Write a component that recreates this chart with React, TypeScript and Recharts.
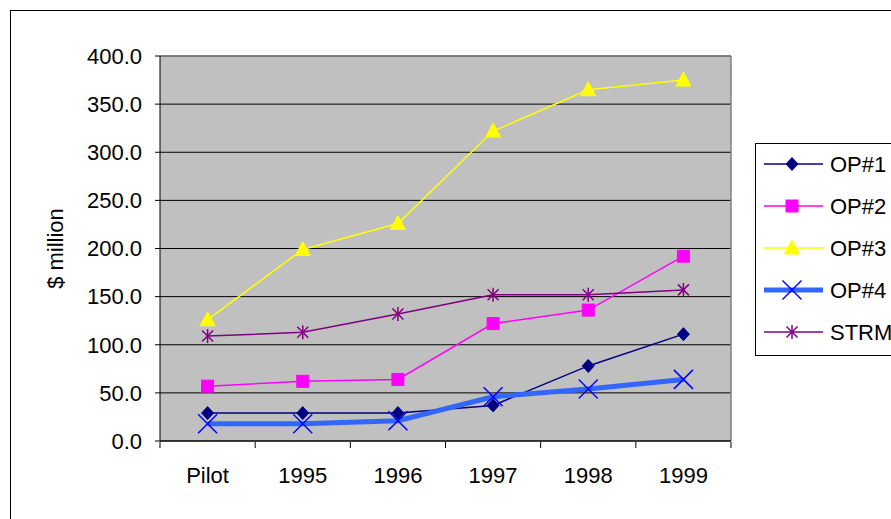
import {
  ComposedChart,
  Line,
  XAxis,
  YAxis,
  CartesianGrid,
  ReferenceLine,
  Legend,
} from 'recharts'

const categories = ['Pilot', '1995', '1996', '1997', '1998', '1999']
const op1 = [29, 29, 29, 37, 78, 111]
const op2 = [57, 62, 64, 122, 136, 192]
const op3 = [126, 199, 226, 322, 365, 375]
const op4 = [18, 18, 21, 46, 54, 64]
const strm = [109, 113, 132, 152, 152, 157]
const yTicks = [0, 50, 100, 150, 200, 250, 300, 350, 400]
const edgeTicks = [0, 1, 2, 3, 4, 5, 6]

const FONT = '"Liberation Sans", Arial, sans-serif'

type Shape = 'diamond' | 'square' | 'triangle' | 'cross' | 'star'

interface SeriesDef {
  key: string
  name: string
  values: number[]
  stroke: string
  width: number
  marker: Shape
  markerColor: string
}

const series: SeriesDef[] = [
  { key: 'op1', name: 'OP#1', values: op1, stroke: '#000080', width: 1.5, marker: 'diamond', markerColor: '#000080' },
  { key: 'op2', name: 'OP#2', values: op2, stroke: '#FF00FF', width: 1.5, marker: 'square', markerColor: '#FF00FF' },
  { key: 'op3', name: 'OP#3', values: op3, stroke: '#FFFF00', width: 1.5, marker: 'triangle', markerColor: '#FFFF00' },
  { key: 'op4', name: 'OP#4', values: op4, stroke: '#3366FF', width: 5, marker: 'cross', markerColor: '#0000FF' },
  { key: 'strm', name: 'STRM', values: strm, stroke: '#800080', width: 1.5, marker: 'star', markerColor: '#800080' },
]

const data = categories.map((label, i) => {
  const row: Record<string, string | number> = { label }
  series.forEach((s) => {
    row[s.key] = s.values[i]
  })
  return row
})

function Marker({ cx, cy, shape, color }: { cx: number; cy: number; shape: Shape; color: string }) {
  if (cx == null || cy == null) return null
  switch (shape) {
    case 'diamond':
      return (
        <polygon
          points={`${cx},${cy - 6.5} ${cx + 6},${cy} ${cx},${cy + 6.5} ${cx - 6},${cy}`}
          fill={color}
          stroke={color}
        />
      )
    case 'square':
      return <rect x={cx - 6} y={cy - 6} width={12} height={12} fill={color} stroke={color} />
    case 'triangle':
      return (
        <polygon
          points={`${cx},${cy - 8} ${cx + 7.5},${cy + 6} ${cx - 7.5},${cy + 6}`}
          fill={color}
          stroke={color}
        />
      )
    case 'cross':
      return (
        <g stroke={color} strokeWidth={1.5}>
          <line x1={cx - 9.5} y1={cy - 9.5} x2={cx + 9.5} y2={cy + 9.5} />
          <line x1={cx - 9.5} y1={cy + 9.5} x2={cx + 9.5} y2={cy - 9.5} />
        </g>
      )
    case 'star':
      return (
        <g stroke={color} strokeWidth={1.5}>
          <line x1={cx - 5.5} y1={cy - 5.5} x2={cx + 5.5} y2={cy + 5.5} />
          <line x1={cx - 5.5} y1={cy + 5.5} x2={cx + 5.5} y2={cy - 5.5} />
          <line x1={cx} y1={cy - 7} x2={cx} y2={cy + 7} />
        </g>
      )
  }
  return null
}

function LegendBox() {
  return (
    <svg width={200} height={214} style={{ display: 'block' }}>
      <rect x={0.5} y={0.5} width={210} height={212} fill="#fff" stroke="#000" />
      {series.map((s, i) => {
        const y = 21 + i * 42
        return (
          <g key={s.key}>
            <line x1={9} x2={68} y1={y} y2={y} stroke={s.stroke} strokeWidth={s.width} />
            <Marker cx={37} cy={y} shape={s.marker} color={s.markerColor} />
            <text x={75} y={y} dy="0.36em" fontFamily={FONT} fontSize={22} fill="#000">
              {s.name}
            </text>
          </g>
        )
      })}
    </svg>
  )
}

const tickStyle = { fontFamily: FONT, fontSize: 22, fill: '#000' }

// boundary ticks between categories: tick marks only, no labels
const NoLabel = () => <g />

export default function App() {
  return (
    <div
      style={{
        position: 'absolute',
        left: 0,
        top: 0,
        width: 891,
        height: 519,
        overflow: 'hidden',
        background: '#fff',
      }}
    >
      <div
        style={{
          position: 'absolute',
          left: 10,
          top: 10,
          width: 1000,
          height: 1000,
          border: '1px solid #000',
        }}
      />
      <ComposedChart
        width={891}
        height={519}
        data={data}
        margin={{ top: 56, right: 160, left: 100, bottom: 48 }}
        style={{ position: 'absolute', left: 0, top: 0 }}
      >
        <CartesianGrid vertical={false} stroke="#000" fill="#C0C0C0" fillOpacity={1} />
        <XAxis
          xAxisId="edge"
          type="number"
          dataKey="edge"
          domain={[0, 6]}
          ticks={edgeTicks}
          interval={0}
          allowDataOverflow
          tick={NoLabel}
          axisLine={false}
          tickLine={{ stroke: '#000' }}
          tickSize={6}
          height={29}
        />
        <XAxis
          xAxisId="cat"
          dataKey="label"
          scale="band"
          tickLine={false}
          axisLine={{ stroke: '#000' }}
          tick={tickStyle}
          tickSize={6}
          tickMargin={20}
          height={1}
        />
        <YAxis
          domain={[0, 400]}
          ticks={yTicks}
          interval={0}
          width={60}
          tick={tickStyle}
          tickLine={{ stroke: '#000' }}
          tickSize={5}
          tickMargin={13}
          axisLine={{ stroke: '#000' }}
          tickFormatter={(v: number) => v.toFixed(1)}
          label={{
            value: '$ million',
            angle: -90,
            position: 'left',
            offset: 45,
            style: { fontFamily: FONT, fontSize: 22, fill: '#000', textAnchor: 'middle' },
          }}
        />
        <ReferenceLine y={400} xAxisId="cat" stroke="#808080" strokeWidth={1.5} />
        <ReferenceLine x={6} xAxisId="edge" stroke="#808080" strokeWidth={1.5} />
        {series.map((s) => (
          <Line
            key={s.key}
            xAxisId="cat"
            dataKey={s.key}
            name={s.name}
            stroke={s.stroke}
            strokeWidth={s.width}
            isAnimationActive={false}
            dot={(p: any) => (
              <Marker key={`${s.key}-${p.index}`} cx={p.cx} cy={p.cy} shape={s.marker} color={s.markerColor} />
            )}
            activeDot={false}
          />
        ))}
        <Legend
          layout="vertical"
          align="center"
          verticalAlign="middle"
          width={200}
          height={214}
          wrapperStyle={{ left: 755, top: 143 }}
          content={() => <LegendBox />}
        />
      </ComposedChart>
    </div>
  )
}
